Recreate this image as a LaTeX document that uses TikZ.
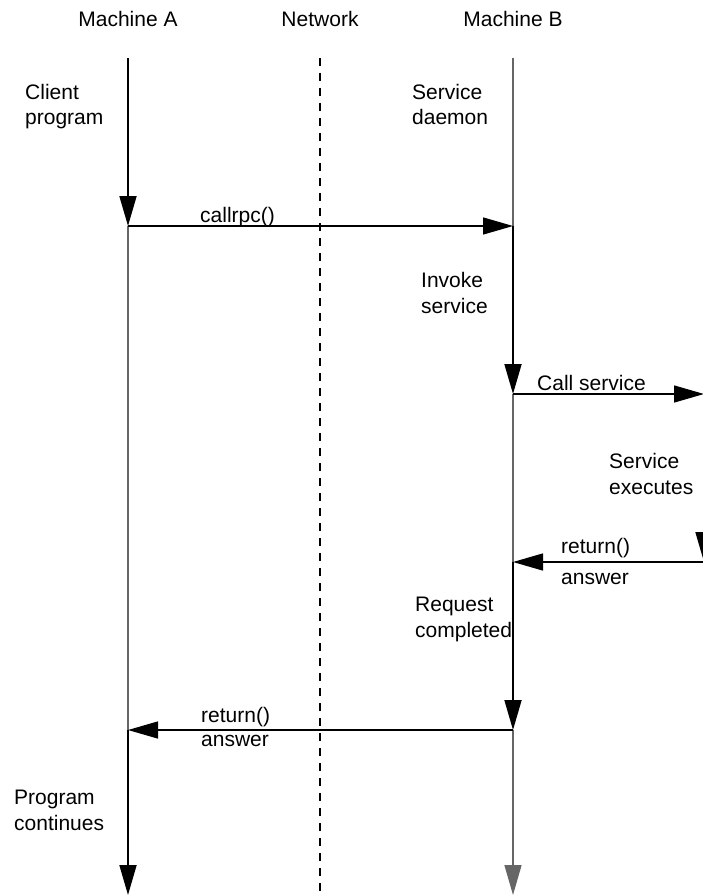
\documentclass[tikz,border=0pt]{standalone}
\usepackage{fontspec}
\setmainfont{Liberation Sans}
\usetikzlibrary{arrows.meta}
\begin{document}
\begin{tikzpicture}[x=1pt,y=-1pt,
  lbl/.style={font=\fontsize{21}{25.5}\selectfont, inner sep=0pt, align=left, anchor=base west},
  ttl/.style={font=\fontsize{21}{25}\selectfont, inner sep=0pt, anchor=base},
  head/.style={-{Triangle[length=30pt,width=17pt]}},
  act/.style={black, line width=1.8pt, head},
  idle/.style={black!60, line width=1.4pt},
  msg/.style={black, line width=1.4pt, head},
  net/.style={black, line width=1.2pt, dash pattern=on 8pt off 7pt},
]
\useasboundingbox (0,0) rectangle (703,896);
\clip (0,0) rectangle (703,896);
% lifeline points
\coordinate (A0) at (128,58);
\coordinate (A1) at (128,226);
\coordinate (A2) at (128,730);
\coordinate (A3) at (128,895);
\coordinate (N0) at (320,58);
\coordinate (N1) at (320,896);
\coordinate (B0) at (513,58);
\coordinate (B1) at (513,226);
\coordinate (B2) at (513,394);
\coordinate (B3) at (513,562);
\coordinate (B4) at (513,730);
\coordinate (B5) at (513,895);
\coordinate (C0) at (704,394);
\coordinate (C1) at (704,562);
% titles
\node[ttl] (ma) at (128,27) {Machine A};
\node[ttl] (nw) at (320,27) {Network};
\node[ttl] (mb) at (513,27) {Machine B};
% lifelines
\draw[act] (A0) -- (A1);
\draw[idle] (A1) -- (A2);
\draw[act] (A2) -- (A3);
\draw[net] (N0) -- (N1);
\draw[idle] (B0) -- (B1);
\draw[act] (B1) -- (B2);
\draw[idle] (B2) -- (B3);
\draw[act] (B3) -- (B4);
\draw[idle, head] (B4) -- (B5);
\draw[act] (C0) -- (C1);
% messages
\draw[msg] (A1) -- (B1);
\draw[msg] (B2) -- (C0);
\draw[msg] (C1) -- (B3);
\draw[msg] (B4) -- (A2);
% labels (y = baseline of last line)
\node[lbl] (client) at (25,125) {Client\\program};
\node[lbl] (daemon) at (412,125) {Service\\daemon};
\node[lbl] (callrpc) at (200,222) {callrpc()};
\node[lbl] (invoke) at (421,313) {Invoke\\service};
\node[lbl] (callsvc) at (537,390) {Call service};
\node[lbl] (exec) at (609,494) {Service\\executes};
\node[lbl] (ret1) at (561,584) {return()\\[5pt]answer};
\node[lbl] (done) at (415,637) {Request\\completed};
\node[lbl] (ret2) at (201,746) {return()\\[-1.5pt]answer};
\node[lbl] (cont) at (14,830) {Program\\continues};
\end{tikzpicture}
\end{document}
